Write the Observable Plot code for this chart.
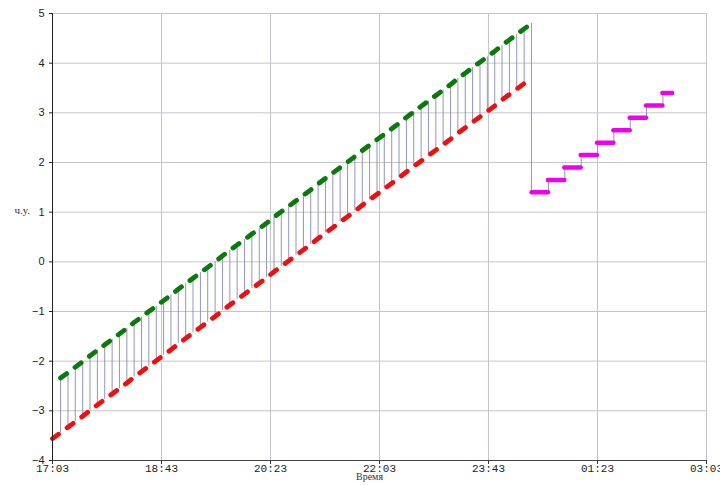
<!DOCTYPE html>
<html>
<head>
<meta charset="utf-8">
<script src="https://cdn.jsdelivr.net/npm/d3@7"></script>
<script src="https://cdn.jsdelivr.net/npm/@observablehq/plot@0.6"></script>
<style>
  html, body { margin: 0; padding: 0; background: #fff; }
  #chart { width: 720px; height: 485px; }
</style>
</head>
<body>
<div id="chart"></div>
<script>
// Minutes after 17:03
const xTicks = [0, 100, 200, 300, 400, 500, 600];
const xTickLabels = ["17:03", "18:43", "20:23", "22:03", "23:43", "01:23", "03:03"];
const yTicks = [-4, -3, -2, -1, 0, 1, 2, 3, 4, 5];

// Sample times (minutes after 17:03)
const sampleMinutes = [0,
  7.4, 14.2, 20.9, 27.7, 34.4, 41.2, 47.9, 54.7, 61.4, 68.2,
  74.9, 81.7, 88.4, 95.2, 101.9, 108.7, 115.4, 122.2, 128.9, 135.7,
  142.4, 149.2, 155.9, 162.7, 169.4, 176.2, 182.9, 189.7, 196.4, 203.2,
  209.9, 216.7, 223.4, 230.2, 236.9, 243.7, 250.4, 257.2, 263.9, 270.7,
  277.4, 284.2, 290.9, 297.7, 304.4, 311.2, 317.9, 324.7, 331.4, 338.2,
  344.9, 351.7, 358.4, 365.2, 371.9, 378.7, 385.4, 392.2, 398.9, 405.7,
  412.4, 419.2, 425.9, 432.7, 439.4];

// Upper (green) series
const upperValues = [null,
  -2.34, -2.23, -2.12, -2.01, -1.89, -1.78, -1.67, -1.56, -1.45, -1.34,
  -1.22, -1.11, -1.00, -0.89, -0.78, -0.67, -0.55, -0.44, -0.33, -0.22,
  -0.11, 0.00, 0.12, 0.23, 0.34, 0.45, 0.56, 0.67, 0.78, 0.90,
  1.01, 1.12, 1.23, 1.34, 1.45, 1.57, 1.68, 1.79, 1.90, 2.01,
  2.12, 2.24, 2.35, 2.46, 2.57, 2.68, 2.79, 2.91, 3.02, 3.13,
  3.24, 3.35, 3.46, 3.57, 3.69, 3.80, 3.91, 4.02, 4.13, 4.24,
  4.36, 4.47, 4.58, 4.69, 4.80];

// Lower (red) series
const lowerValues = [-3.56,
  -3.44, -3.33, -3.22, -3.11, -2.99, -2.88, -2.77, -2.66, -2.55, -2.44,
  -2.32, -2.21, -2.10, -1.99, -1.88, -1.77, -1.65, -1.54, -1.43, -1.32,
  -1.21, -1.10, -0.98, -0.87, -0.76, -0.65, -0.54, -0.43, -0.32, -0.20,
  -0.09, 0.02, 0.13, 0.24, 0.35, 0.47, 0.58, 0.69, 0.80, 0.91,
  1.02, 1.14, 1.25, 1.36, 1.47, 1.58, 1.69, 1.81, 1.92, 2.03,
  2.14, 2.25, 2.36, 2.47, 2.59, 2.70, 2.81, 2.92, 3.03, 3.14,
  3.26, 3.37, 3.48, 3.59, null];

// Step (magenta) series
const stepStart = [440, 455, 470, 485, 500, 515, 530, 545, 560];
const stepEnd   = [455, 470, 485, 500, 515, 530, 545, 560, 569];
const stepValues = [1.40, 1.65, 1.90, 2.15, 2.40, 2.65, 2.90, 3.15, 3.40];

// Build tables
const samples = sampleMinutes.map((t, i) => ({t, upper: upperValues[i], lower: lowerValues[i]}));
const upperData = samples.filter(d => d.upper != null);
const lowerData = samples.filter(d => d.lower != null);
const connectors = upperData.map(d => ({t: d.t, y1: d.upper, y2: d.lower != null ? d.lower : stepValues[0]}));
const steps = stepStart.map((s, i) => ({x1: s, x2: stepEnd[i], y: stepValues[i]}));
const risers = stepStart.slice(1).map((s, i) => ({x: s, y1: stepValues[i], y2: stepValues[i + 1]}));

const fmtY = d => d < 0 ? "\u2212" + Math.abs(d) : String(d);
const fmtX = d => xTickLabels[xTicks.indexOf(d)];

const chart = Plot.plot({
  width: 720,
  height: 485,
  marginLeft: 52,
  marginRight: 14,
  marginTop: 13,
  marginBottom: 25,
  x: {domain: [0, 600]},
  y: {domain: [-4, 5]},
  style: {background: "#fff", fontFamily: "'Liberation Sans', Arial, sans-serif", fontSize: "11px", color: "#222", overflow: "visible"},
  marks: [
    Plot.gridX(xTicks, {stroke: "#c4c4cc", strokeOpacity: 1}),
    Plot.gridY(yTicks, {stroke: "#c4c4cc", strokeOpacity: 1}),
    Plot.ruleX(connectors, {x: "t", y1: "y1", y2: "y2", stroke: "#9494bc", strokeWidth: 1}),
    Plot.ruleX(risers, {x: "x", y1: "y1", y2: "y2", stroke: "#9494bc", strokeWidth: 1}),
    Plot.line(lowerData, {x: "t", y: "lower", stroke: "#ee1010", strokeWidth: 4.8,
      strokeDasharray: "7.5,10.7", strokeLinecap: "round"}),
    Plot.line(upperData, {x: "t", y: "upper", stroke: "#0a7a0a", strokeWidth: 4.8,
      strokeDasharray: "7.5,10.5", strokeLinecap: "round"}),
    Plot.ruleY(steps, {x1: "x1", x2: "x2", y: "y", stroke: "#ee00ee", strokeWidth: 4.5, strokeLinecap: "round", inset: 0}),
    Plot.ruleX([0], {stroke: "#222", strokeWidth: 1}),
    Plot.ruleY([-4], {stroke: "#444", strokeWidth: 1}),
    Plot.axisX(xTicks, {tickFormat: fmtX, tickSize: 4, tickPadding: 0, label: null,
      fontFamily: "'Liberation Mono', 'DejaVu Sans Mono', monospace", fontSize: 11, stroke: "#333"}),
    Plot.axisY(yTicks, {tickFormat: fmtY, tickSize: 3, tickPadding: 5, label: null, fontSize: 11}),
    Plot.text(["ч.у."], {frameAnchor: "left", dx: -38, dy: -27, textAnchor: "start",
      fontFamily: "'Liberation Serif', 'DejaVu Serif', serif", fontSize: 11, fill: "#333"}),
    Plot.text(["Время"], {frameAnchor: "bottom", dx: -10, dy: 19,
      fontFamily: "'Liberation Serif', 'DejaVu Serif', serif", fontSize: 10, fill: "#333"})
  ]
});
document.getElementById("chart").appendChild(chart);
</script>
</body>
</html>
